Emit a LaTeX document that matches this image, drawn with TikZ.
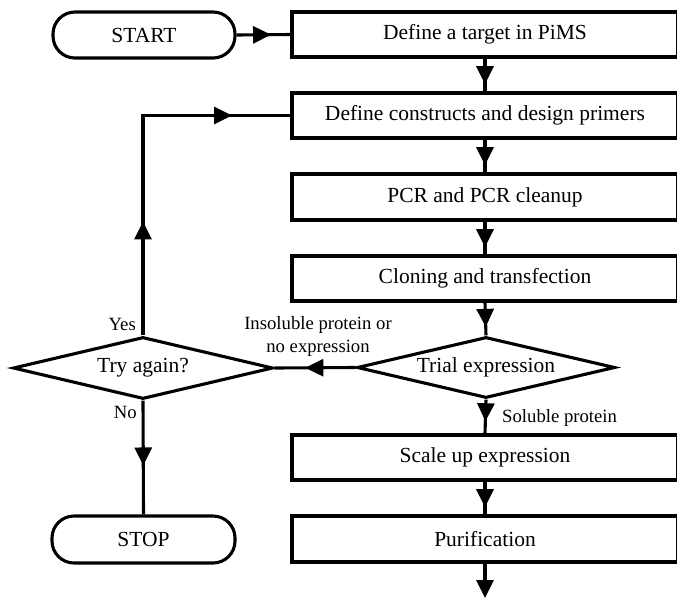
\documentclass[tikz,border=0pt]{standalone}
\usepackage{fontspec}
\setmainfont{Liberation Serif}
\usetikzlibrary{shapes.geometric,arrows.meta,decorations.markings}
\begin{document}
\begin{tikzpicture}[x=1pt,y=-1pt,
  lw/.style={line width=3.1pt},
  boxtext/.style={font=\fontsize{21.5}{24}\selectfont},
  labtext/.style={font=\fontsize{18.7}{22}\selectfont},
  procbox/.style={lw,draw,rectangle,minimum width=386pt,minimum height=45pt,inner sep=0pt,boxtext},
  termbox/.style={lw,draw,rectangle,rounded corners=22pt,minimum width=182pt,minimum height=46pt,inner sep=0pt,boxtext},
  decbox/.style={lw,draw,diamond,shape aspect=4.2,minimum width=258pt,minimum height=61pt,inner sep=0pt,boxtext},
  conn/.style={lw},
  tip/.style={},
  midarrow/.style={postaction={decorate,decoration={markings,mark=at position #1 with {\arrow{Triangle[width=17pt,length=18pt]}}}}}
]
\useasboundingbox (0,0) rectangle (677,598);

\node[termbox] (start) at (144,35) {START};
\node[procbox] (b1) at (485,34.5) {Define a target in PiMS};
\node[procbox] (b2) at (485,115.5) {Define constructs and design primers};
\node[procbox,minimum height=46pt] (b3) at (485,197) {PCR and PCR cleanup};
\node[procbox] (b4) at (485,278.5) {Cloning and transfection};
\node[decbox] (trial) at (486,367.5) {Trial expression};
\node[decbox,minimum width=260pt,minimum height=62pt] (try) at (143,368) {Try again?};
\node[procbox] (scale) at (485,457.5) {Scale up expression};
\node[procbox,minimum height=46pt] (purif) at (485,539) {Purification};
\node[termbox,minimum width=183pt,minimum height=47pt] (stop) at (143.5,539.5) {STOP};
\coordinate (endpt) at (485,598);

\draw[conn,midarrow=0.64] (start.east) -- (b1.west);
\draw[conn,midarrow=0.78] (b1.south) -- (b2.north);
\draw[conn,midarrow=0.78] (b2.south) -- (b3.north);
\draw[conn,midarrow=0.78] (b3.south) -- (b4.north);
\draw[conn,midarrow=0.74] (b4.south) -- (trial.north);
\draw[conn,midarrow=0.64] (trial.south) -- (scale.north);
\draw[conn,midarrow=0.78] (scale.south) -- (purif.north);
\draw[conn,-{Triangle[width=17pt,length=18pt]}] (purif.south) -- (endpt);
\draw[conn,midarrow=0.62] (trial.west) -- (try.east);
\draw[conn,postaction={decorate,decoration={markings,
   mark=at position 114pt with {\arrow{Triangle[width=17pt,length=18pt]}},
   mark=at position 309pt with {\arrow{Triangle[width=17pt,length=18pt]}}}}]
   (try.north) |- (b2.west);
\draw[conn,midarrow=0.57] (try.south) -- (stop.north);

\node[labtext,anchor=base east,inner sep=0pt] (yes) at (136,330) {Yes};
\node[labtext,anchor=base east,inner sep=0pt] (no) at (137,418) {No};
\node[labtext,anchor=base,inner sep=0pt] (ins1) at (318,329) {Insoluble protein or};
\node[labtext,anchor=base,inner sep=0pt] (ins2) at (318,352) {no expression};
\node[labtext,anchor=base west,inner sep=0pt] (sol) at (502,422) {Soluble protein};
\end{tikzpicture}
\end{document}
